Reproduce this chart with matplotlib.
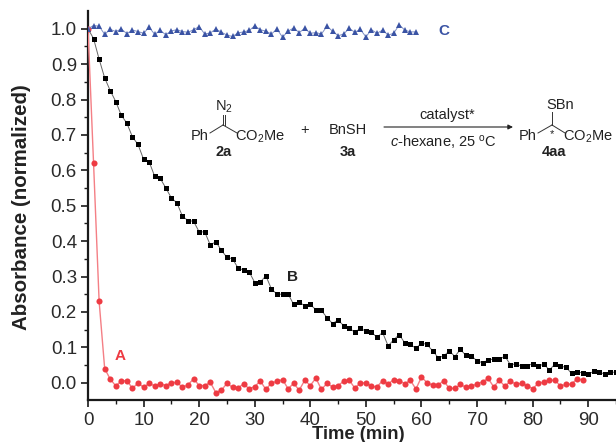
import matplotlib
matplotlib.use("Agg")
import matplotlib.pyplot as plt

minutes_a = list(range(0, 90))
series_a = [1.0, .62, .23, .04, .01, -.009, .005, .006, -.016, -.001, -.013, -.002, -.009, -.003, -.008, 0, .001, -.013, -.006, .011,
            -.008, -.008, .001, -.028, -.021, -.002, -.013, -.014, -.004, -.017, -.011, .005, -.019, -.001, .004, .009, -.017, -.002, -.021, .007,
            -.008, .013, -.019, -.002, -.012, -.008, .004, .007, -.015, -.001, 0, -.01, -.012, .006, -.003, .008, .006, -.003, .007, -.018,
            .016, 0, -.007, -.006, .005, -.016, -.016, -.005, -.013, -.009, -.004, .003, .012, -.012, .007, -.01, .004, -.004, -.002, -.008,
            -.017, -.002, .002, .007, .007, -.009, -.005, -.004, .011, .008]
minutes_b = list(range(0, 96))
series_b = [1.0, .972, .914, .861, .825, .794, .755, .733, .694, .673, .631, .624, .583, .577, .55, .522, .508, .47, .458, .456,
            .426, .426, .389, .398, .374, .354, .35, .324, .318, .313, .283, .284, .302, .265, .25, .25, .251, .221, .228, .217,
            .221, .206, .204, .184, .167, .177, .161, .155, .142, .154, .145, .143, .128, .142, .104, .121, .136, .112, .108, .097,
            .112, .108, .09, .071, .075, .09, .074, .094, .077, .075, .062, .056, .064, .067, .066, .075, .051, .053, .047, .047,
            .054, .046, .053, .036, .052, .046, .044, .026, .031, .027, .024, .032, .03, .024, .029, .03]
minutes_c = list(range(0, 60))
series_c = [1.0, 1.009, 1.007, .984, .998, .992, .999, .986, .996, .992, .987, 1.004, .984, .995, .983, .994, .997, .992, .99, .997,
            1.006, .985, .988, .999, .99, .982, .978, .988, .991, .995, 1.008, .997, .993, .985, .999, .976, .993, 1.002, .989, 1.001,
            .987, .989, .985, 1.007, .993, .98, .985, 1.001, .99, .998, .977, .997, .987, .996, .982, .987, 1.011, .996, .991, .991]
x_ticks = [0, 10, 20, 30, 40, 50, 60, 70, 80, 90]
y_ticks = [0.0, 0.1, 0.2, 0.3, 0.4, 0.5, 0.6, 0.7, 0.8, 0.9, 1.0]

W, H = 616, 442
plt.rcParams["font.family"] = ["Liberation Sans", "DejaVu Sans"]
plt.rcParams["mathtext.fontset"] = "custom"
plt.rcParams["mathtext.rm"] = "Liberation Sans"
plt.rcParams["mathtext.it"] = "Liberation Sans:italic"
plt.rcParams["mathtext.bf"] = "Liberation Sans:bold"
fig = plt.figure(figsize=(W / 100, H / 100), dpi=100)
ax = fig.add_axes([88 / W, 1 - 400.4 / H, (W - 88) / W, (400.4 - 11) / H])
ax.set_xlim(0, 94.45)
ax.set_ylim(-0.05, 1.05)
for s in ("top", "right"):
    ax.spines[s].set_visible(False)
for s in ("left", "bottom"):
    ax.spines[s].set_linewidth(1.6)
    ax.spines[s].set_color("#1a1a1a")
ax.set_xticks(x_ticks)
ax.set_yticks(y_ticks)
ax.set_yticklabels([f"{v:.1f}" for v in y_ticks])
ax.set_xticks([v + 5 for v in x_ticks], minor=True)
ax.set_yticks([v + 0.05 for v in y_ticks[:-1]], minor=True)
ax.tick_params(axis="both", which="major", length=5, width=1.2, labelsize=13.5, color="#1a1a1a", labelcolor="#2a2a2a")
ax.tick_params(axis="x", which="major", pad=3.5)
ax.tick_params(axis="y", which="major", pad=3)
ax.tick_params(axis="both", which="minor", length=3, width=1.0, color="#1a1a1a")

ax.plot(minutes_b, series_b, "-", color="#666666", lw=0.7, marker="s", ms=3.6, mfc="black", mec="black", mew=0, zorder=3)
ax.plot(minutes_a, series_a, "-", color="#f47f85", lw=1.0, marker="o", ms=4.4, mfc="#ee3b43", mec="#ee3b43", mew=0, zorder=4)
ax.plot(minutes_c, series_c, "-", color="#7f8fc4", lw=0.7, marker="^", ms=4.7, mfc="#3a53a4", mec="#3a53a4", mew=0, zorder=4)

fig.text(358 / W, 1 - 434.5 / H, "Time (min)", fontsize=13.2, fontweight="bold", color="#222222", ha="center", va="center")
fig.text(22 / W, 1 - 207 / H, "Absorbance (normalized)", rotation=90, fontsize=14.8, fontweight="bold",
         color="#222222", ha="center", va="center")

def label(px, py, s, **kw):
    kw.setdefault("fontsize", 10.5)
    kw.setdefault("color", "#222222")
    fig.text(px / W, 1 - py / H, s, ha="center", va="center", **kw)

label(120, 356, "A", fontsize=11, fontweight="bold", color="#ee3b43")
label(292, 277, "B", fontsize=11, fontweight="bold")
label(444, 31, "C", fontsize=11, fontweight="bold", color="#3a53a4")

label(224, 107, r"N$_2$")
label(200, 136, "Ph")
label(260, 137, r"CO$_2$Me")
label(224, 152, "2a", fontweight="bold")
label(305, 130, "+")
label(348, 130, "BnSH")
label(348, 152, "3a", fontweight="bold")
label(447, 115, "catalyst*")
label(443, 142, r"$\mathit{c}$-hexane, 25 $^{\rm o}$C")
label(560, 105, "SBn")
label(528, 136, "Ph")
label(588, 137, r"CO$_2$Me")
label(552, 134, "*", fontsize=8)
label(554, 152, "4aa", fontweight="bold")

def seg(x0, y0, x1, y1):
    fig.add_artist(plt.Line2D([x0 / W, x1 / W], [1 - y0 / H, 1 - y1 / H], color="#333333", lw=0.7))

seg(210, 133, 223, 125); seg(223, 125, 237, 133)
seg(222.7, 125, 222.7, 115); seg(225, 125, 225, 115)
seg(538, 133, 552, 125); seg(552, 125, 565, 133); seg(552, 125, 552, 112)
fig.add_artist(matplotlib.patches.FancyArrowPatch((384 / W, 1 - 127 / H), (513 / W, 1 - 127 / H),
               transform=fig.transFigure, arrowstyle="-|>", mutation_scale=7, lw=0.8, color="#222222",
               shrinkA=0, shrinkB=0))
fig.savefig("out.png", dpi=100)
